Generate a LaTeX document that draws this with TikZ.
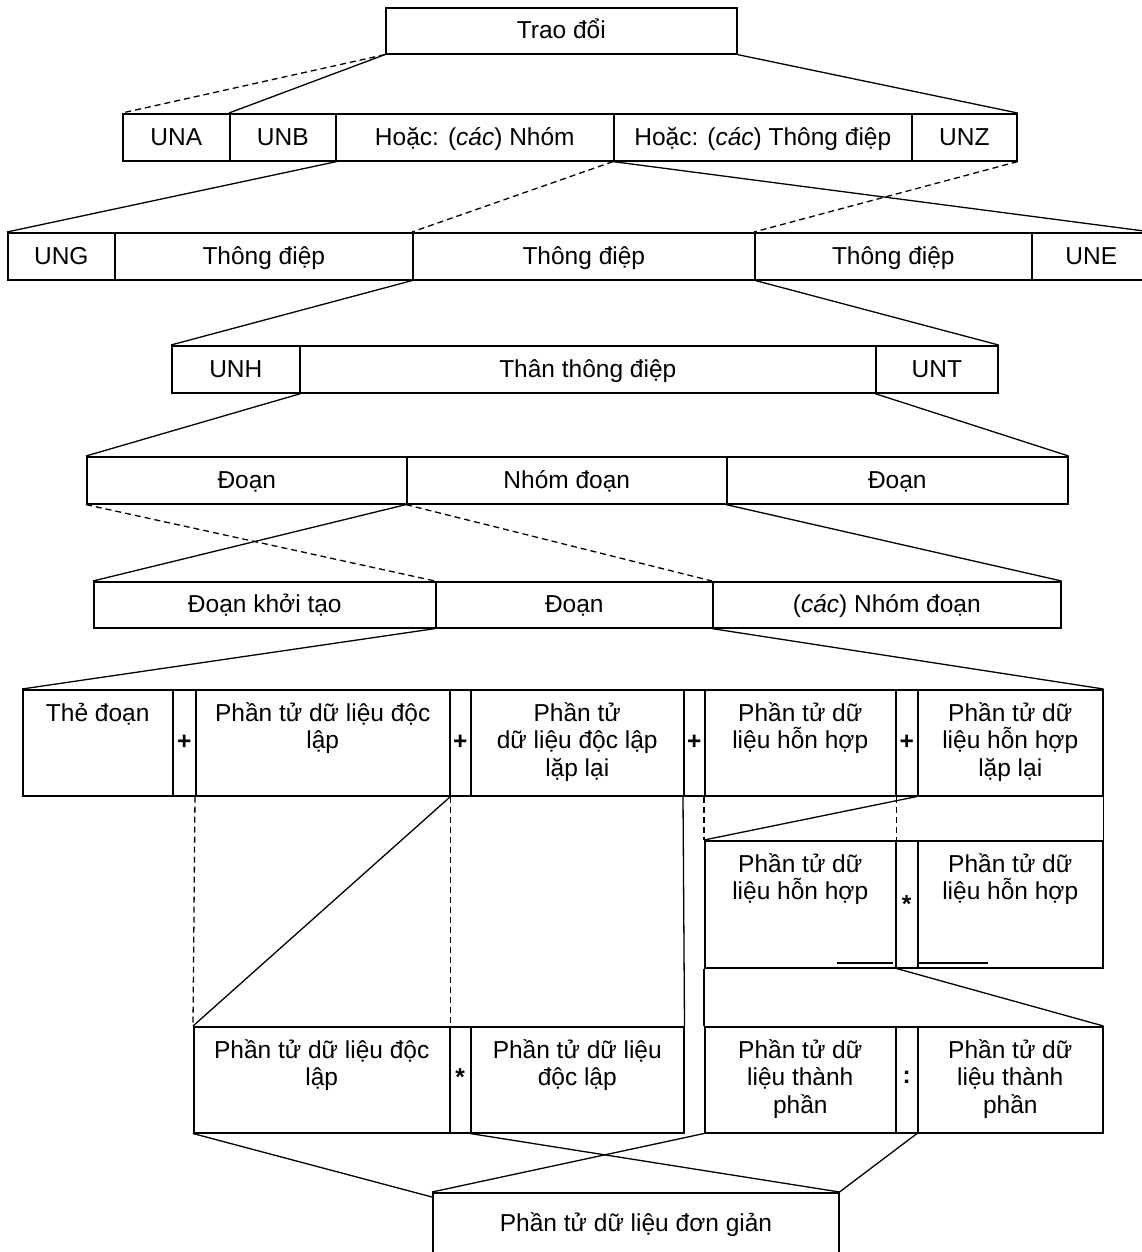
\documentclass[tikz,border=0pt]{standalone}
\usepackage{fontspec}
\setmainfont{Liberation Sans}
% rectangle cell: [options]{name}{x1}{y1}{x2}{y2}{text}
\newcommand\bx[7][]{\node[cell,#1,minimum width={(#5-#3)*1pt},minimum height={(#6-#4)*1pt}] (#2) at (#3,#4) {#7};}
% top-aligned multi-line caption inside a cell
\newcommand\celltext[3]{\node[blocktxt] (#1) at ([yshift=-9pt]#2.north) {\rule{0pt}{23pt}#3};}
\begin{document}
\begin{tikzpicture}[x=1pt,y=-1pt,
  cell/.style={draw,line width=1.6pt,inner sep=0pt,anchor=north west,
    font=\fontsize{24.5}{27.5}\selectfont,text height=20pt,text depth=4pt},
  opcell/.style={font=\fontsize{24.5}{27.5}\selectfont\bfseries,text height={},text depth={}},
  blocktxt/.style={font=\fontsize{24.5}{27.5}\selectfont,align=center,inner sep=0pt,anchor=north},
  link/.style={line width=1.3pt},
  dlink/.style={line width=1.3pt,dash pattern=on 6pt off 4pt}]
\useasboundingbox (0,0) rectangle (1142,1252);
\fill[white] (0,0) rectangle (1142,1252);
\clip (0,0) rectangle (1142,1252);

% level 0
\bx{tradoi}{385}{7}{736}{53}{Trao đổi}
% level 1
\bx{una}{122}{113}{229}{160}{UNA}
\bx{unb}{229}{113}{335}{160}{UNB}
\bx{nhom}{335}{113}{613}{160}{Hoặc: (\textit{các}) Nhóm}
\bx{thdiep}{613}{113}{911}{160}{Hoặc: (\textit{các}) Thông điệp}
\bx{unz}{911}{113}{1016}{160}{UNZ}
% level 2
\bx{ung}{7}{232}{114}{279}{UNG}
\bx{tda}{114}{232}{412}{279}{Thông điệp}
\bx{tdb}{412}{232}{754}{279}{Thông điệp}
\bx{tdc}{754}{232}{1031}{279}{Thông điệp}
\bx{une}{1031}{232}{1150}{279}{UNE}
% level 3
\bx{unh}{171}{345}{299}{392}{UNH}
\bx{than}{299}{345}{875}{392}{Thân thông điệp}
\bx{unt}{875}{345}{997}{392}{UNT}
% level 4
\bx{doana}{86}{456}{406}{503}{Đoạn}
\bx{nhomdoan}{406}{456}{726}{503}{Nhóm đoạn}
\bx{doanb}{726}{456}{1067}{503}{Đoạn}
% level 5
\bx{khoitao}{93}{581}{435}{627}{Đoạn khởi tạo}
\bx{doanc}{435}{581}{712}{627}{Đoạn}
\bx{cacnhom}{712}{581}{1060}{627}{(\textit{các}) Nhóm đoạn}

% level 6
\begin{scope}[cell/.append style={line width=1.5pt}]
\bx{the}{22}{689}{172}{795}{}
\bx[opcell]{pa}{172}{689}{195}{795}{+}
\bx{ela}{195}{689}{449}{795}{}
\bx[opcell]{pb}{449}{689}{470}{795}{+}
\bx{elb}{470}{689}{683}{795}{}
\bx[opcell]{pc}{683}{689}{704}{795}{+}
\bx{elc}{704}{689}{895}{795}{}
\bx[opcell]{pd}{895}{689}{917}{795}{+}
\bx{eld}{917}{689}{1102}{795}{}
% level 7
\bx{hha}{704}{840}{895}{967}{}
\bx[opcell]{sa}{895}{840}{917}{967}{*}
\bx{hhb}{917}{840}{1102}{967}{}
% level 8
\bx{dla}{193}{1026}{449}{1132}{}
\bx[opcell,text depth=6pt]{sb}{449}{1026}{470}{1132}{*}
\bx{dlb}{470}{1026}{683}{1132}{}
% level 9
\bx{tpa}{704}{1026}{895}{1132}{}
\bx[opcell,text depth=4pt]{ca}{895}{1026}{917}{1132}{:}
\bx{tpb}{917}{1026}{1102}{1132}{}
% level 10
\bx{simple}{432}{1192}{838}{1300}{}
\end{scope}

\celltext{the-t}{the}{Thẻ đoạn}
\celltext{ela-t}{ela}{Phần tử dữ liệu độc\\lập}
\celltext{elb-t}{elb}{Phần tử\\dữ liệu độc lập\\lặp lại}
\celltext{elc-t}{elc}{Phần tử dữ\\liệu hỗn hợp}
\celltext{eld-t}{eld}{Phần tử dữ\\liệu hỗn hợp\\lặp lại}
\celltext{hha-t}{hha}{Phần tử dữ\\liệu hỗn hợp}
\celltext{hhb-t}{hhb}{Phần tử dữ\\liệu hỗn hợp}
\celltext{dla-t}{dla}{Phần tử dữ liệu độc\\lập}
\celltext{dlb-t}{dlb}{Phần tử dữ liệu\\độc lập}
\celltext{tpa-t}{tpa}{Phần tử dữ\\liệu thành\\phần}
\celltext{tpb-t}{tpb}{Phần tử dữ\\liệu thành\\phần}
\node[font=\fontsize{24.5}{27.5}\selectfont,anchor=base,inner sep=0pt] (simple-t) at (636,1231) {Phần tử dữ liệu đơn giản};

% connectors, top half
\draw[dlink] (tradoi.south west) -- (una.north west);
\draw[link] (tradoi.south west) -- (unb.north west);
\draw[link] (tradoi.south east) -- (unz.north east);
\draw[link] (unb.south east) -- (ung.north west);
\draw[dlink] (thdiep.south west) -- (tdb.north west);
\draw[link] (thdiep.south west) -- (une.north east);
\draw[dlink] (unz.south east) -- (tdc.north west);
\draw[link] (tdb.south west) -- (unh.north west);
\draw[link] (tdb.south east) -- (unt.north east);
\draw[link] (unh.south east) -- (doana.north west);
\draw[link] (unt.south west) -- (doanb.north east);
\draw[dlink] (doana.south west) -- (doanc.north west);
\draw[dlink] (nhomdoan.south west) -- (cacnhom.north west);
\draw[link] (nhomdoan.south west) -- (khoitao.north west);
\draw[link] (doanb.south west) -- (cacnhom.north east);
\draw[link] (doanc.south west) -- (the.north west);
\draw[link] (cacnhom.south west) -- (eld.north east);

% connectors, lower half
\draw[dlink] (ela.south west) -- (dla.north west);
\draw[dlink] (ela.south east) -- (dla.north east);
\draw[link] (ela.south east) -- (dla.north west);
\draw[link] (pc.south west) -- (dlb.north east);
\draw[dlink] (elc.south west) -- (hha.north west);
\draw[dlink] (elc.south east) -- (hha.north east);
\draw[link] (eld.south west) -- (hha.north west);
\draw[link] (eld.south east) -- (hhb.north east);
\draw[link] (hha.south west) -- (tpa.north west);
\draw[link] (hha.south east) -- (tpb.north east);
\draw[link] (dla.south west) -- ([yshift=-5pt]simple.north west);
\draw[link] (dlb.south west) -- (simple.north east);
\draw[link] (tpa.south west) -- (simple.north west);
\draw[link] (tpb.south west) -- (simple.north east);

% short rules just above the bottom edge of the level-7 cells
\draw[link] (837,963) -- (893,963);
\draw[link] (917,963) -- (988,963);
\end{tikzpicture}
\end{document}
